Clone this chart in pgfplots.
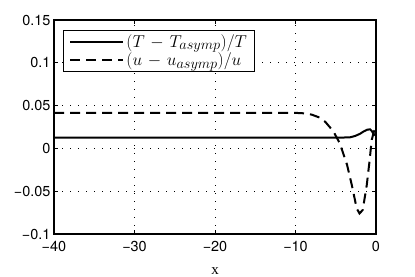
\documentclass[border=0pt]{standalone}
\usepackage{fontspec}
\setmainfont{TeX Gyre Heros}
\newfontfamily\seriffont{Liberation Serif}
\usepackage{pgfplots}
\pgfplotsset{compat=1.18}
\begin{document}
\begin{tikzpicture}[x=1bp,y=1bp]
\path[use as bounding box] (0,0) rectangle (415,277);
\begin{axis}[at={(54bp,43bp)}, anchor=south west, scale only axis,
  width=322bp, height=214bp,
  xmin=-40, xmax=0, ymin=-0.1, ymax=0.15,
  xtick={-40,-30,-20,-10,0}, xticklabels={−40,−30,−20,−10,0},
  ytick={-0.1,-0.05,0,0.05,0.1,0.15}, yticklabels={−0.1,−0.05,0,0.05,0.1,0.15},
  tick align=inside, major tick length=4bp,
  tick style={black, line width=0.6bp},
  grid=major, major grid style={black, line width=0.6bp, dash pattern=on 0.8bp off 7.2bp},
  axis line style={line width=1.2bp},
  ticklabel style={font=\fontsize{14.5}{16}\selectfont},
  xticklabel style={yshift=-4bp},
  xlabel={\seriffont x}, xlabel style={font=\fontsize{15}{16}\selectfont, yshift=-9bp},
  legend style={at={(0.028,0.953)}, anchor=north west, draw=black, line width=0.8bp,
    font=\fontsize{19}{21}\selectfont, inner xsep=6bp, inner ysep=2bp, row sep=0bp},
  legend cell align=left,
  legend image code/.code={\draw[#1] plot coordinates {(0bp,0bp)(26bp,0bp)(53bp,0bp)};},
]
\addplot[black, line width=2bp] coordinates {
(-40,0.0127) (-10,0.0127) (-4,0.0127) (-3.2,0.013) (-2.6,0.0145) (-2,0.017) (-1.5,0.020)
(-1.1,0.0218) (-0.75,0.0223) (-0.5,0.020) (-0.3,0.0168) (-0.1,0.0155) (0,0.0155)};
\addlegendentry{$(T\mskip2mu-\mskip2mu T_{asymp})/T$}
\addplot[black, line width=2bp, dash pattern=on 10bp off 6bp] coordinates {
(-40,0.0415) (-10,0.0415) (-9,0.041) (-8,0.0395) (-7,0.036) (-6.3,0.031) (-5.3,0.020)
(-4.5,0.006) (-3.6,-0.019) (-3.0,-0.043) (-2.4,-0.070) (-2.05,-0.076) (-1.65,-0.072)
(-1.15,-0.043) (-0.83,-0.017) (-0.53,0.010) (-0.25,0.020) (0,0.024)};
\addlegendentry{$(u\mskip2mu-\mskip2mu u_{asymp})/u$}
\end{axis}
\end{tikzpicture}
\end{document}
